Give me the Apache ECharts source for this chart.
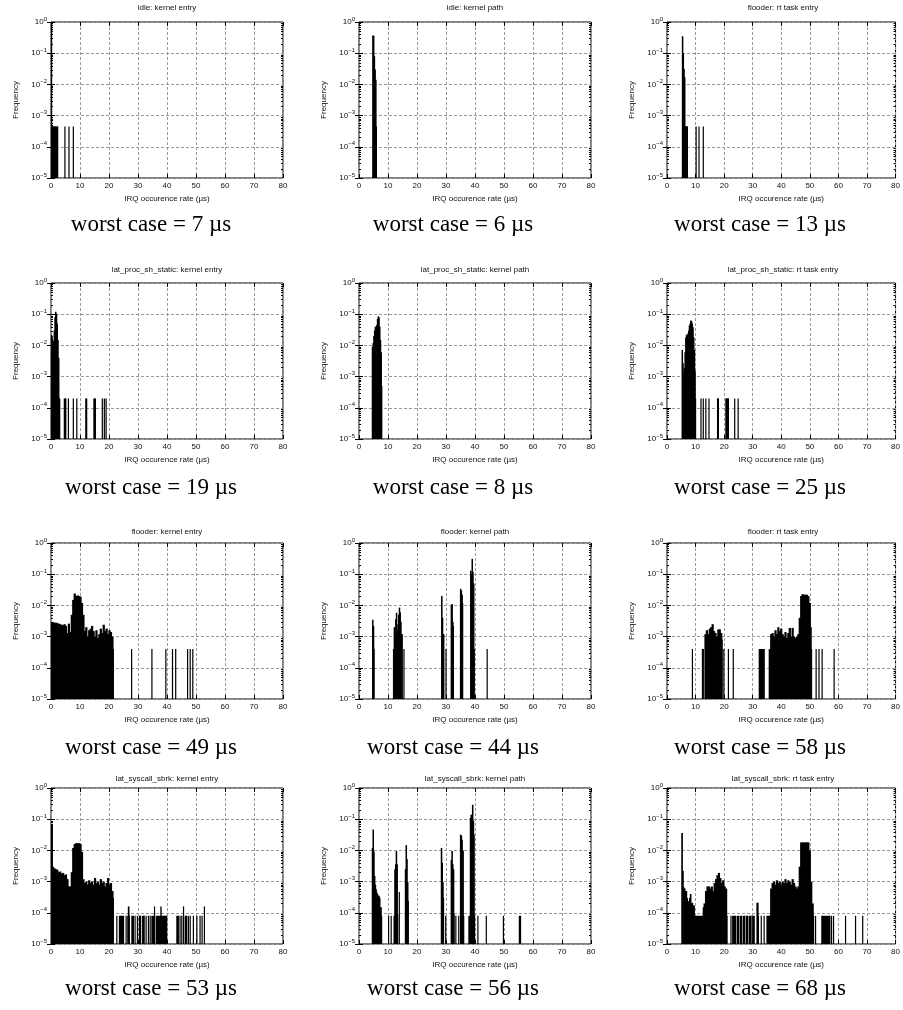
<!DOCTYPE html>
<html><head><meta charset="utf-8">
<script src="https://cdn.jsdelivr.net/npm/echarts@6/dist/echarts.min.js"></script>
<style>html,body{margin:0;padding:0;background:#fff}#c{width:903px;height:1010px}</style>
</head><body><div id="c"></div><script>
// ---------------- data ----------------
const panelTitles = [
  'idle: kernel entry', 'idle: kernel path', 'flooder: rt task entry',
  'lat_proc_sh_static: kernel entry', 'lat_proc_sh_static: kernel path', 'lat_proc_sh_static: rt task entry',
  'flooder: kernel entry', 'flooder: kernel path', 'flooder: rt task entry',
  'lat_syscall_sbrk: kernel entry', 'lat_syscall_sbrk: kernel path', 'lat_syscall_sbrk: rt task entry'
];
const worstCases = [7, 6, 13, 19, 8, 25, 49, 44, 58, 53, 56, 68];
const xAxisName = 'IRQ occurence rate (µs)';
const yAxisName = 'Frequency';

// [x (µs), frequency]
const idleEntry = [[0.15,0.99],[0.35,4.5e-4],[0.6,4.5e-4],[0.85,4.5e-4],[1.1,4.5e-4],[1.6,4.5e-4],[2.0,4.5e-4],[2.3,4.5e-4],
  [4.8,4.5e-4],[6.2,4.5e-4],[7.7,4.5e-4]];
const idlePath = [[4.75,0.37],[5.0,0.36],[5.25,0.08],[5.5,0.03],[5.75,0.014],[6.0,4.5e-4]];
const idleRt = [[5.4,0.35],[5.65,0.1],[5.9,0.032],[6.15,0.017],[6.4,4.5e-4],[6.65,4.5e-4],[6.9,4.5e-4],[7.15,4.5e-4],
  [10.2,4.5e-4],[11.2,4.5e-4],[12.7,4.5e-4]];

const procEntry = [[0.1,0.022],[0.35,0.018],[0.6,0.011],[0.85,0.014],[1.1,0.03],[1.35,0.08],[1.6,0.12],[1.85,0.1],[2.1,0.05],
  [2.35,0.015],[2.6,0.004],[2.85,2e-4],[3.0,2e-4],
  [4.6,2e-4],[5.1,2e-4],[6.0,2e-4],[7.7,2e-4],[8.9,2e-4],[12.0,2e-4],[12.3,2e-4],[14.8,2e-4],[15.3,2e-4],[17.7,2e-4],[18.4,2e-4],[19.0,2e-4]];
const procPath = [[4.6,0.009],[4.85,0.012],[5.1,0.02],[5.35,0.03],[5.6,0.04],[5.85,0.038],[6.1,0.045],[6.35,0.07],[6.6,0.085],
  [6.85,0.08],[7.1,0.04],[7.35,0.015],[7.6,0.006],[7.85,5e-4]];
const procRt = [[5.3,7.2e-3],[5.55,2.7e-3],[5.8,1.3e-3],[6.05,1.9e-3],[6.3,6e-3],[6.55,0.018],[6.8,0.022],[7.05,0.021],[7.3,0.024],
  [7.55,0.03],[7.8,0.043],[8.05,0.05],[8.3,0.063],[8.55,0.06],[8.8,0.05],[9.05,0.038],[9.3,0.018],[9.55,7e-3],[9.8,1.5e-3],[10.0,2e-4],
  [11.9,2e-4],[12.7,2e-4],[13.6,2e-4],[14.7,2e-4],[17.7,2e-4],[18.0,2e-4],[20.6,2e-4],[21.0,2e-4],[21.5,2e-4],[23.7,2e-4],[24.9,2e-4]];

const floodEntry = [[0,2.8e-3],[0.5,2.9e-3],[1,2.8e-3],[1.5,2.8e-3],[2,2.7e-3],[2.5,2.6e-3],[3,2.5e-3],[3.5,2.4e-3],[4,2.3e-3],
  [4.5,2.5e-3],[5,2.2e-3],[5.5,1.3e-3],[6,2.6e-3],[6.5,1.4e-3],[7,5e-3],[7.5,0.015],[8,0.024],[8.5,0.02],[9,0.021],[9.5,0.02],
  [10,0.019],[10.5,0.012],[11,5e-3],[11.5,1.5e-3],[12,2e-3],[12.5,1e-3],[13,1.6e-3],[13.5,1.8e-3],[14,2.2e-3],[14.5,1.5e-3],
  [15,1e-3],[15.5,1.6e-3],[16,9e-4],[16.5,1.2e-3],[17,1.8e-3],[17.5,1.3e-3],[18,2.4e-3],[18.5,1.5e-3],[19,1.8e-3],[19.5,1.2e-3],
  [20,1.6e-3],[20.5,1.4e-3],[21,1.0e-3],[21.5,4e-4],
  [27.8,4e-4],[34.8,4e-4],[39.6,4e-4],[41.9,4e-4],[43.0,4e-4],[47.1,4e-4],[48.0,4e-4],[48.9,4e-4]];
const floodPath = [[4.7,3.5e-3],[4.95,2.2e-3],[5.2,4e-4],
  [11.9,4e-4],[12.15,2e-3],[12.4,1e-3],[12.65,3.6e-3],[12.9,5.8e-3],[13.15,1.5e-3],[13.4,2.5e-3],[13.65,5e-3],[13.9,8.5e-3],
  [14.15,6e-3],[14.4,3e-3],[14.65,1.2e-3],[14.9,1.2e-3],[15.5,4e-4],
  [28.5,0.02],[28.75,4e-3],[29.0,1.2e-3],[29.25,1.2e-3],[30.0,4e-4],
  [31.8,0.01],[32.05,0.011],[32.3,3e-3],[32.55,2.2e-3],
  [35.0,0.034],[35.25,0.03],[35.5,0.022],[35.75,0.012],
  [38.5,0.13],[38.75,0.1],[39.0,0.31],[39.25,0.12],[39.5,0.05],[39.75,4e-4],
  [44.2,4e-4]];
const floodRt = [[8.9,4e-4],[12.4,4e-4],[12.7,4e-4],
  [13.3,1.2e-3],[13.8,1.6e-3],[14.3,1.2e-3],[14.8,1.8e-3],[15.3,2.0e-3],[15.8,2.5e-3],[16.3,1.5e-3],[16.8,1.3e-3],[17.3,1.0e-3],
  [17.8,1.7e-3],[18.3,1.7e-3],[18.8,1.3e-3],[19.3,8e-4],
  [19.9,4e-4],[21.5,4e-4],[23.2,4e-4],[32.3,4e-4],[32.7,4e-4],[33.1,4e-4],[33.5,4e-4],[34.0,4e-4],
  [35.8,4e-4],[36.3,1.2e-3],[36.8,1.3e-3],[37.3,1.0e-3],[37.8,1.6e-3],[38.3,1.2e-3],[38.8,2e-3],[39.3,1.5e-3],[39.8,1.8e-3],
  [40.3,1.2e-3],[40.8,1.0e-3],[41.3,1.4e-3],[41.8,9e-4],[42.3,1.3e-3],[42.8,1.9e-3],[43.3,1.0e-3],[43.8,1.9e-3],[44.3,1.0e-3],
  [44.8,9e-4],[45.3,1.0e-3],[45.8,1.2e-3],[46.3,4e-3],[46.8,0.02],[47.3,0.023],[47.8,0.022],[48.3,0.022],[48.8,0.022],
  [49.3,0.02],[49.8,0.012],[50.3,2e-3],[50.6,4e-4],
  [52.2,4e-4],[53.2,4e-4],[54.3,4e-4],[58.5,4e-4]];

const sbrkEntry = [[0.2,0.068],[0.6,3e-3],[1.0,2.7e-3],[1.5,2.5e-3],[2.0,2.4e-3],[2.5,2.0e-3],[3.0,2.1e-3],[3.5,1.8e-3],[4.0,1.9e-3],
  [4.5,1.6e-3],[5.0,1.7e-3],[5.5,1.2e-3],[6.0,7e-4],[6.5,7e-4],[7.0,2e-3],[7.5,0.012],[8.0,0.016],[8.5,0.017],[9.0,0.017],
  [9.5,0.017],[10.0,0.016],[10.5,0.009],[11.0,1.2e-3],[11.5,9e-4],[12.0,1e-3],[12.5,8e-4],[13.0,1.1e-3],[13.5,9e-4],[14.0,1e-3],
  [14.5,8e-4],[15.0,1.3e-3],[15.5,9e-4],[16.0,1e-3],[16.5,8e-4],[17.0,1.2e-3],[17.5,9e-4],[18.0,1e-3],[18.5,7e-4],[19.0,9e-4],
  [19.5,1.3e-3],[20.0,8e-4],[20.5,9e-4],[21.0,5e-4],[21.5,3e-4],
  [22.7,8e-5],[23.6,8e-5],[24.1,8e-5],[24.5,8e-5],[25.0,8e-5],[25.9,8e-5],[26.5,8e-5],[26.7,1.6e-4],[27.0,8e-5],[27.9,8e-5],
  [28.4,8e-5],[29.0,8e-5],[29.8,8e-5],[30.5,8e-5],[30.9,8e-5],[31.6,8e-5],[32.1,8e-5],[32.8,8e-5],[33.6,8e-5],[34.2,8e-5],
  [34.8,8e-5],[35.3,8e-5],[35.7,1.6e-4],[36.3,8e-5],[36.7,8e-5],[37.2,8e-5],[37.6,8e-5],[37.9,1.6e-4],[38.1,8e-5],[38.5,8e-5],
  [39.0,8e-5],[39.5,8e-5],[39.9,8e-5],[43.4,8e-5],[43.9,8e-5],[44.5,8e-5],[45.1,8e-5],[45.7,1.6e-4],[46.3,8e-5],[46.8,8e-5],
  [47.4,8e-5],[48.0,8e-5],[49.1,8e-5],[50.3,8e-5],[51.4,8e-5],[52.1,8e-5],[52.9,1.6e-4]];
const sbrkPath = [[4.6,0.012],[4.85,0.047],[5.1,0.0093],[5.35,1.5e-3],[5.6,8e-4],[5.85,5.7e-4],[6.1,4.5e-4],[6.35,4e-4],[6.6,3.5e-4],
  [6.85,3.5e-4],[7.1,3e-4],[7.35,1.5e-4],[7.8,8e-5],
  [10.2,8e-5],[11.1,8e-5],
  [12.1,8e-5],[12.35,2.5e-3],[12.6,3.6e-3],[12.85,0.0095],[13.1,3.6e-3],[13.35,9e-5],[13.9,4.6e-4],
  [16.0,2.5e-3],[16.25,0.0148],[16.5,5.3e-3],[16.75,9.5e-4],[17.0,2.4e-4],
  [28.4,0.012],[28.65,4e-3],[28.9,9.5e-4],[29.15,3e-4],[29.9,8e-5],
  [31.8,5e-3],[32.05,0.0095],[32.3,3.6e-3],[32.55,2.5e-3],[32.8,9e-5],[33.4,8e-5],[34.4,8e-5],
  [35.0,0.032],[35.25,0.03],[35.5,0.022],[35.75,0.01],[36.1,8e-5],[37.9,8e-5],
  [38.4,0.11],[38.65,0.14],[38.9,0.12],[39.15,0.29],[39.4,0.09],[39.65,0.032],[39.85,8e-5],
  [41.0,8e-5],[43.9,8e-5],[49.8,8e-5],[55.3,8e-5],[55.7,8e-5]];
const sbrkRt = [[5.2,0.036],[5.5,2.2e-3],[5.8,6.5e-4],[6.1,6e-4],[6.4,5e-4],[6.7,5e-4],[7.0,3e-4],[7.3,2.4e-4],[7.6,2e-4],
  [7.9,3e-4],[8.2,4e-4],[8.5,2e-4],[8.8,2.1e-4],[9.1,1.7e-4],[9.4,1.7e-4],[9.7,8e-5],
  [10.2,8e-5],[10.7,8e-5],[11.2,8e-5],[11.7,8e-5],[12.2,8e-5],[12.7,1.5e-4],
  [13.0,2e-4],[13.5,5e-4],[14.0,7e-4],[14.5,7e-4],[15.0,6e-4],[15.5,7e-4],[16.0,5e-4],[16.5,9e-4],[17.0,1.2e-3],[17.5,1.6e-3],
  [18.0,1.9e-3],[18.5,1.3e-3],[19.0,9e-4],[19.5,1.1e-3],[20.0,7e-4],[20.5,6e-4],[21.0,8e-5],
  [22.4,8e-5],[23.0,8e-5],[23.5,8e-5],[24.0,8e-5],[24.6,8e-5],[25.0,8e-5],[25.6,8e-5],[26.1,8e-5],[26.7,8e-5],[27.2,8e-5],
  [27.8,8e-5],[28.3,8e-5],[28.9,8e-5],[29.4,8e-5],[30.0,8e-5],[30.5,8e-5],[31.5,2.1e-4],[32.0,8e-5],[33.0,8e-5],[34.0,8e-5],
  [35.0,8e-5],[35.5,8e-5],
  [36.0,8e-5],[36.3,6e-4],[36.8,9e-4],[37.3,1e-3],[37.8,8e-4],[38.3,1.1e-3],[38.8,9e-4],[39.3,1e-3],[39.8,8e-4],[40.3,1e-3],
  [40.8,9e-4],[41.3,1.2e-3],[41.8,9e-4],[42.3,1.1e-3],[42.8,1e-3],[43.3,8e-4],[43.8,1.2e-3],[44.3,9e-4],[44.8,7e-4],[45.3,6e-4],
  [45.8,7e-4],[46.3,3e-3],[46.8,0.018],[47.3,0.018],[47.8,0.018],[48.3,0.018],[48.8,0.018],[49.3,0.018],[49.8,0.01],[50.3,1e-3],
  [50.8,2e-4],[51.3,8e-5],
  [52.0,8e-5],[54.2,8e-5],[54.6,8e-5],[55.0,8e-5],[55.5,8e-5],[56.0,8e-5],[56.5,8e-5],[57.0,8e-5],[57.6,8e-5],[58.3,8e-5],
  [62.5,8e-5],[66.0,8e-5],[68.5,8e-5]];

const panelData = [idleEntry, idlePath, idleRt, procEntry, procPath, procRt,
  floodEntry, floodPath, floodRt, sbrkEntry, sbrkPath, sbrkRt];

const X_MIN = 0, X_MAX = 80, X_STEP = 10;
const Y_MIN = 1e-5, Y_MAX = 1;
const minorFactors = [2, 3, 4, 5, 6, 7, 8, 9];
const decades = [-5, -4, -3, -2, -1];
const JOIN_GAP = 0.55; // µs: adjacent bins closer than this are drawn touching

// ---------------- layout ----------------
const colLeft = [51, 359, 667];
const colText = [151, 453, 760];
const plotW = 232, plotH = 156;
const rowTop = [22, 283, 543, 788];
const titleTop = [4, 266, 528, 775];
const worstTop = [213, 476, 736, 977];

const minorTickData = [];
decades.forEach(d => minorFactors.forEach(f => minorTickData.push([0, f * Math.pow(10, d)])));

const sans = 'Liberation Sans, Arial, Helvetica, sans-serif';
const serif = 'Liberation Serif, Times New Roman, serif';

const grids = [], xAxes = [], yAxes = [], series = [], titles = [];

function makeImpulse(data) {
  return function (params, api) {
    const i = params.dataIndex;
    const x = api.value(0), y = api.value(1);
    const top = api.coord([x, y]);
    const bot = api.coord([x, Y_MIN]);
    let left = top[0] - 0.6, right = top[0] + 0.6;
    const next = data[i + 1];
    if (next && next[0] - x <= JOIN_GAP) {
      right = Math.max(right, api.coord([next[0], y])[0] + 0.2);
    }
    return { type: 'rect', shape: { x: left, y: top[1], width: right - left, height: bot[1] - top[1] },
      style: { fill: '#000' } };
  };
}
function minorTick(params, api) {
  const cs = params.coordSys;
  const yy = Math.round(api.coord([0, api.value(1)])[1]) + 0.5;
  return { type: 'group', children: [
    { type: 'line', shape: { x1: cs.x, y1: yy, x2: cs.x + 2, y2: yy }, style: { stroke: '#000', lineWidth: 1 } },
    { type: 'line', shape: { x1: cs.x + cs.width - 2, y1: yy, x2: cs.x + cs.width, y2: yy }, style: { stroke: '#000', lineWidth: 1 } }
  ] };
}
function expLabel(v) {
  const e = Math.round(Math.log10(v));
  return '{b|10}{s|' + (e < 0 ? '\u2212' + (-e) : e) + '}';
}

for (let i = 0; i < 12; i++) {
  const r = Math.floor(i / 3), c = i % 3;
  grids.push({ left: colLeft[c], top: rowTop[r], width: plotW, height: plotH, show: true,
    borderColor: '#000', borderWidth: 1, backgroundColor: 'transparent', containLabel: false });
  xAxes.push({ gridIndex: i, type: 'value', min: X_MIN, max: X_MAX, interval: X_STEP, position: 'bottom',
    name: xAxisName, nameLocation: 'middle', nameGap: 17,
    nameTextStyle: { fontSize: 8, color: '#111', fontFamily: sans },
    axisLine: { show: false }, axisTick: { show: true, inside: true, length: 4, lineStyle: { color: '#000' } },
    axisLabel: { fontSize: 8, color: '#111', margin: 4, fontFamily: sans, showMinLabel: true, showMaxLabel: true, hideOverlap: false },
    splitLine: { show: true, lineStyle: { color: '#9a9a9a', type: [3, 2], width: 1 } } });
  xAxes.push({ gridIndex: i, type: 'value', min: X_MIN, max: X_MAX, interval: X_STEP, position: 'top',
    axisLine: { show: false }, axisTick: { show: true, inside: true, length: 4, lineStyle: { color: '#000' } },
    axisLabel: { show: false }, splitLine: { show: false } });
  yAxes.push({ gridIndex: i, type: 'log', logBase: 10, min: Y_MIN, max: Y_MAX, splitNumber: 5, position: 'left',
    name: yAxisName, nameLocation: 'middle', nameGap: 31, nameRotate: 90,
    nameTextStyle: { fontSize: 8, color: '#111', fontFamily: sans },
    axisLine: { show: false }, axisTick: { show: true, inside: true, length: 4, lineStyle: { color: '#000' } },
    axisLabel: { formatter: expLabel, margin: 4, fontFamily: sans, color: '#111',
      rich: { b: { fontSize: 8, color: '#111', fontFamily: sans }, s: { fontSize: 6, color: '#111', fontFamily: sans, padding: [0, 0, 6, 0] } } },
    splitLine: { show: true, lineStyle: { color: '#9a9a9a', type: [3, 2], width: 1 } } });
  yAxes.push({ gridIndex: i, type: 'log', logBase: 10, min: Y_MIN, max: Y_MAX, splitNumber: 5, position: 'right',
    axisLine: { show: false }, axisTick: { show: true, inside: true, length: 4, lineStyle: { color: '#000' } },
    axisLabel: { show: false }, splitLine: { show: false } });

  series.push({ type: 'custom', xAxisIndex: 2 * i, yAxisIndex: 2 * i, renderItem: makeImpulse(panelData[i]), clip: true,
    encode: { x: 0, y: 1 }, data: panelData[i], silent: true, animation: false, z: 3 });
  series.push({ type: 'custom', xAxisIndex: 2 * i, yAxisIndex: 2 * i, renderItem: minorTick, clip: false,
    encode: { x: 0, y: 1 }, data: minorTickData, silent: true, animation: false, z: 4 });

  titles.push({ text: panelTitles[i], left: colLeft[c] + plotW / 2, top: titleTop[r], textAlign: 'center', padding: 0,
    textStyle: { fontSize: 8, fontWeight: 'normal', color: '#111', fontFamily: sans } });
  titles.push({ text: 'worst case = ' + worstCases[i] + ' µs', left: colText[c], top: worstTop[r], textAlign: 'center', padding: 0,
    textStyle: { fontSize: 23, fontWeight: 'normal', color: '#000', fontFamily: serif } });
}

const chart = echarts.init(document.getElementById('c'), null, { renderer: 'canvas' });
chart.setOption({
  backgroundColor: '#fff',
  animation: false,
  textStyle: { fontFamily: sans },
  title: titles,
  grid: grids,
  xAxis: xAxes,
  yAxis: yAxes,
  series: series
});
</script></body></html>
